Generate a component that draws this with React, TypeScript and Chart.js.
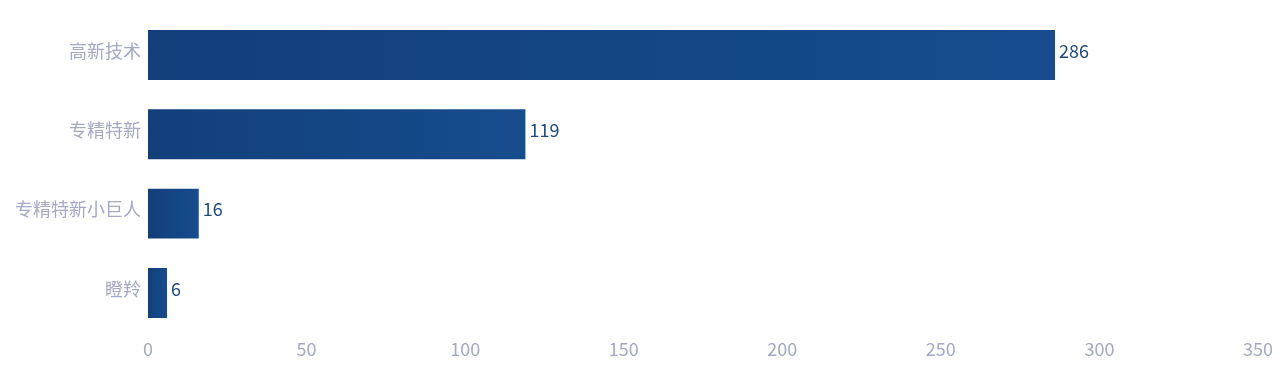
import React, { useEffect, useRef } from "react";
import { Chart, registerables } from "chart.js";

Chart.register(...registerables);

const categories = ["高新技术", "专精特新", "专精特新小巨人", "瞪羚"];
const values = [286, 119, 16, 6];
const xTicks = [0, 50, 100, 150, 200, 250, 300, 350];

const FONT = '"Noto Sans CJK SC", "Noto Sans", sans-serif';

const valueLabelPlugin = {
  id: "valueLabels",
  afterDatasetsDraw(chart: any) {
    const ctx = chart.ctx;
    const meta = chart.getDatasetMeta(0);
    ctx.save();
    ctx.font = `18px ${FONT}`;
    ctx.fillStyle = "#1f4a80";
    ctx.textAlign = "left";
    ctx.textBaseline = "middle";
    meta.data.forEach((el: any, i: number) => {
      ctx.fillText(String(values[i]), el.x + 4, el.y - 4);
    });
    ctx.restore();
  },
};

export default function App() {
  const ref = useRef<HTMLCanvasElement>(null);
  useEffect(() => {
    document.body.style.margin = "0";
    const canvas = ref.current!;
    const chart = new Chart(canvas, {
      type: "bar",
      data: {
        labels: categories,
        datasets: [
          {
            data: values,
            backgroundColor: (c: any) => {
              const ch = c.chart;
              const xs = ch.scales?.x;
              if (!xs || c.dataIndex === undefined) return "#164787";
              const x0 = xs.getPixelForValue(0);
              const x1 = xs.getPixelForValue(values[c.dataIndex]);
              if (!isFinite(x0) || !isFinite(x1) || x1 <= x0) return "#164787";
              const g = ch.ctx.createLinearGradient(x0, 0, x1, 0);
              g.addColorStop(0, "#123f7a");
              g.addColorStop(1, "#174c8e");
              return g;
            },
            borderWidth: 0,
            barPercentage: 0.63,
            categoryPercentage: 1,
          },
        ],
      },
      options: {
        indexAxis: "y",
        animation: false,
        responsive: false,
        maintainAspectRatio: false,
        layout: { padding: { top: 15.3, right: 22, left: 0, bottom: 0 } },
        plugins: { legend: { display: false }, tooltip: { enabled: false } },
        scales: {
          x: {
            min: 0,
            max: 350,
            afterBuildTicks: (s: any) => {
              s.ticks = xTicks.map((v) => ({ value: v }));
            },
            afterFit: (s: any) => {
              s.height = 49.4;
              s.paddingLeft = 0;
              s.paddingRight = 0;
            },
            grid: { display: false, drawTicks: false },
            border: { display: false },
            ticks: {
              color: "#a4a9c4",
              font: { family: FONT, size: 18 },
              padding: 5.5,
            },
          },
          y: {
            afterFit: (s: any) => {
              s.width = 148;
              s.paddingTop = 0;
              s.paddingBottom = 0;
            },
            grid: { display: false, drawTicks: false },
            border: { display: false },
            ticks: {
              color: "#a4a9c4",
              font: { family: FONT, size: 18 },
              padding: 7,
              labelOffset: -4,
            },
          },
        },
      },
      plugins: [valueLabelPlugin],
    } as any);
    return () => chart.destroy();
  }, []);
  return (
    <div style={{ width: 1280, height: 382 }}>
      <canvas ref={ref} width={1280} height={382} style={{ display: "block" }} />
    </div>
  );
}
